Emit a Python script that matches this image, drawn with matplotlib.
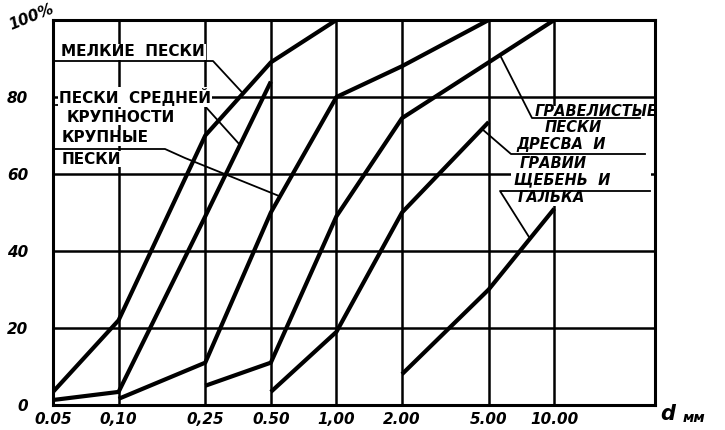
import numpy as np
import matplotlib
matplotlib.use("Agg")
import matplotlib.pyplot as plt
from matplotlib.patches import Rectangle

# grain size, mm (log axis) and tick labels as written on the drawing
d_ticks = [0.05, 0.10, 0.25, 0.50, 1.00, 2.00, 5.00, 10.00]
d_labels = ["0.05", "0,10", "0,25", "0.50", "1,00", "2.00", "5.00", "10.00"]
pct_ticks = [0, 20, 40, 60, 80]

# cumulative passing, %
fine_d = [0.05, 0.10, 0.25, 0.50, 1.00]
fine_p = [3.4, 22, 70, 89, 100]
medium_d = [0.05, 0.10, 0.25, 0.50]
medium_p = [1.3, 3.4, 49, 84]
coarse_d = [0.10, 0.25, 0.50, 1.00, 2.00, 5.00]
coarse_p = [1.6, 11, 50, 80, 88, 100]
gravelly_d = [0.25, 0.50, 1.00, 2.00, 5.00, 10.00]
gravelly_p = [5, 11, 49, 74.5, 89, 100]
grus_d = [0.50, 1.00, 2.00, 5.00]
grus_p = [3.4, 19, 50, 73.5]
rubble_d = [2.00, 5.00, 10.00]
rubble_p = [8, 30, 51]

X_LO, X_HI = 0.05, 29.0
AX_L, AX_R, AX_T, AX_B = 53, 655, 20, 405
W, H = 725, 430


def px2d(px, py):
    # pixel of the picture -> data coords of the axes
    d = X_LO * (X_HI / X_LO) ** ((px - AX_L) / (AX_R - AX_L))
    v = 100.0 * (AX_B - py) / (AX_B - AX_T)
    return d, v


def on_curve(px, xs, ys):
    d = px2d(px, 0)[0]
    return d, float(np.interp(np.log10(d), np.log10(xs), ys))


fig = plt.figure(figsize=(W / 100, H / 100), dpi=100)
ax = fig.add_axes([AX_L / W, 1 - AX_B / H, (AX_R - AX_L) / W, (AX_B - AX_T) / H])
ax.set_xscale("log")
ax.set_xlim(X_LO, X_HI)
ax.set_ylim(0, 100)

ax.set_xticks(d_ticks)
ax.set_xticklabels(d_labels)
ax.xaxis.set_minor_locator(matplotlib.ticker.NullLocator())
ax.set_yticks(pct_ticks)
ax.set_yticklabels([str(v) for v in pct_ticks])
ax.tick_params(length=0)
ax.tick_params(axis="x", pad=5)
ax.tick_params(axis="y", pad=18)
for lab in ax.get_xticklabels() + ax.get_yticklabels():
    lab.set_fontsize(11)
    lab.set_fontweight("bold")
    lab.set_fontstyle("italic")
ax.grid(True, color="black", linewidth=1.8, zorder=1)
ax.set_axisbelow(True)
for s in ax.spines.values():
    s.set_linewidth(2.2)
    s.set_zorder(6)

# white area behind the right-hand labels
d0, v0 = px2d(511, 206)
d1, v1 = px2d(651, 106)
ax.add_patch(Rectangle((d0, v0), d1 - d0, v1 - v0, facecolor="white",
                       edgecolor="none", zorder=2))

curves = [(fine_d, fine_p), (medium_d, medium_p), (coarse_d, coarse_p),
          (gravelly_d, gravelly_p), (grus_d, grus_p), (rubble_d, rubble_p)]
for xs, ys in curves:
    ax.plot(xs, ys, color="black", linewidth=3.0, solid_capstyle="butt", zorder=4)


def leader(points):
    xs = [p[0] for p in points]
    ys = [p[1] for p in points]
    ax.plot(xs, ys, color="black", linewidth=1.3, zorder=3, clip_on=False)


leader([px2d(53, 61), px2d(213, 61), on_curve(243, fine_d, fine_p)])
leader([px2d(56, 105), px2d(204, 105), on_curve(240, medium_d, medium_p)])
leader([px2d(53, 149), px2d(165, 149), px2d(185, 158), on_curve(280, coarse_d, coarse_p)])
leader([on_curve(500, gravelly_d, gravelly_p), px2d(532, 118), px2d(640, 118)])
leader([on_curve(482, grus_d, grus_p), px2d(511, 154), px2d(645, 154)])
leader([px2d(650, 191), px2d(500, 191), on_curve(530, rubble_d, rubble_p)])

txt = dict(fontweight="bold", color="black", va="center",
           ha="left", zorder=5, clip_on=False)
box = dict(facecolor="white", edgecolor="none", pad=0.5)


def label(px, py, s, italic=False, bg=True, size=11):
    d, v = px2d(px, py)
    ax.text(d, v, s, fontstyle="italic" if italic else "normal", fontsize=size,
            bbox=box if bg else None, **txt)


label(61, 52, "МЕЛКИЕ  ПЕСКИ")
label(59, 97, "ПЕСКИ  СРЕДНЕЙ")
label(67, 117, "КРУПНОСТИ")
label(62, 138, "КРУПНЫЕ")
label(62, 159, "ПЕСКИ")
label(535, 111, "ГРАВЕЛИСТЫЕ", italic=True, bg=False, size=10.5)
label(545, 128, "ПЕСКИ", italic=True, bg=False, size=10.5)
label(516, 144, "ДРЕСВА  И", italic=True, bg=False, size=10.5)
label(520, 163, "ГРАВИИ", italic=True, bg=False, size=10.5)
label(514, 180, "ЩЕБЕНЬ  И", italic=True, bg=False, size=10.5)
label(518, 198, "ГАЛЬКА", italic=True, bg=False, size=10.5)

fig.text(7 / W, 1 - 17 / H, "100%", fontsize=11, fontweight="bold",
         fontstyle="italic", rotation=22, va="center", ha="left")
fig.text(660 / W, 1 - 414 / H, "d", fontsize=15, fontweight="bold",
         fontstyle="italic", va="center", ha="left")
fig.text(683 / W, 1 - 418 / H, "мм", fontsize=10, fontweight="bold",
         fontstyle="italic", va="center", ha="left")

fig.savefig("out.png", dpi=100, facecolor="white")
